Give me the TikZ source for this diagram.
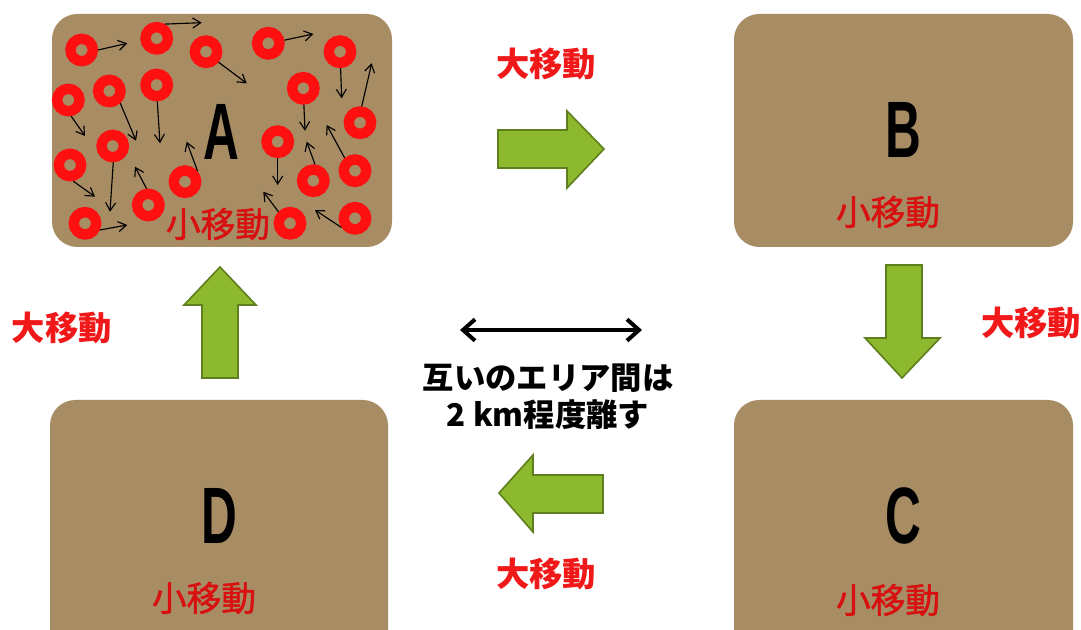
\documentclass[tikz,border=0pt]{standalone}
\usepackage{fontspec}
\newfontfamily\jp{Noto Sans CJK JP}
\newfontfamily\jpsmall[FakeBold=1.5]{Noto Sans CJK JP}
\newfontfamily\letterfont[FakeStretch=0.62]{Liberation Sans}
\usetikzlibrary{arrows.meta}
\definecolor{areafill}{HTML}{A78C64}
\definecolor{ringred}{HTML}{FF1010}
\definecolor{labred}{HTML}{F01818}
\definecolor{smallred}{HTML}{D81010}
\definecolor{gfill}{HTML}{8DB92E}
\definecolor{gdraw}{HTML}{5F7F1F}
\tikzset{
  area/.style={fill=areafill, rounded corners=19pt, inner sep=0pt},
  letter/.style={font=\letterfont\bfseries\fontsize{60}{60}\selectfont, text=black, inner sep=0pt},
  small/.style={font=\jpsmall\fontsize{26}{26}\selectfont, text=smallred, inner sep=0pt},
  big/.style={font=\jp\bfseries\fontsize{25}{25}\selectfont, text=labred, inner sep=0pt},
  note/.style={font=\jp\bfseries\fontsize{23.5}{28}\selectfont, text=black, align=center, inner sep=0pt},
  garrow/.style={fill=gfill, draw=gdraw, line width=1.2pt, line join=miter},
  ring/.style={circle, draw=ringred, line width=7.8pt, minimum size=16.8pt, inner sep=0pt},
  move/.style={draw=black, line width=0.85pt, -{Straight Barb[length=6pt,width=7.5pt]}},
  dist/.style={draw=black, line width=3pt, {Straight Barb[length=9pt,width=16pt]}-{Straight Barb[length=9pt,width=16pt]}}
}
\begin{document}
\begin{tikzpicture}[x=0.75pt,y=-0.75pt]
\useasboundingbox (0,0) rectangle (1081,630);
\clip (0,0) rectangle (1081,630);
\fill[white] (0,0) rectangle (1081,630);

% areas
\node[area, minimum width=340*0.75pt, minimum height=233*0.75pt] (A) at (222,130.5) {};
\node[area, minimum width=339*0.75pt, minimum height=233*0.75pt] (B) at (903.5,130.5) {};
\node[area, minimum width=339*0.75pt, minimum height=260*0.75pt] (C) at (903.5,530) {};
\node[area, minimum width=338*0.75pt, minimum height=260*0.75pt] (D) at (219,530) {};

% rings in A
\node[ring] (r1) at (81.7,50) {};
\node[ring] (r2) at (156.7,38.3) {};
\node[ring] (r3) at (206,51.7) {};
\node[ring] (r4) at (268.3,43.3) {};
\node[ring] (r5) at (340,51.7) {};
\node[ring] (r6) at (68.3,100) {};
\node[ring] (r7) at (109.3,91) {};
\node[ring] (r8) at (156.7,85) {};
\node[ring] (r9) at (303.3,88.3) {};
\node[ring] (r10) at (360,122.7) {};
\node[ring] (r11) at (112.7,146) {};
\node[ring] (r12) at (70,165) {};
\node[ring] (r13) at (277.7,141.7) {};
\node[ring] (r14) at (185,181.7) {};
\node[ring] (r15) at (355,170.7) {};
\node[ring] (r16) at (313.3,180.7) {};
\node[ring] (r17) at (148.3,205) {};
\node[ring] (r18) at (85,223.3) {};
\node[ring] (r19) at (290,223.3) {};
\node[ring] (r20) at (355,218.3) {};

% arrow targets
\coordinate (t1) at (127.3,43.3);
\coordinate (t2) at (201.7,22.7);
\coordinate (t3) at (246.7,83.3);
\coordinate (t4) at (313.3,34);
\coordinate (t5) at (341.7,98.3);
\coordinate (t6) at (371.7,63.3);
\coordinate (t7) at (85,136);
\coordinate (t8) at (136,140.7);
\coordinate (t9) at (160,143.3);
\coordinate (t10) at (305,130.7);
\coordinate (t11) at (186.7,141.7);
\coordinate (t12) at (277.7,185);
\coordinate (t13) at (306.7,141.7);
\coordinate (t14) at (326.7,125);
\coordinate (t15) at (95,196.7);
\coordinate (t16) at (110,211.7);
\coordinate (t17) at (135,166.7);
\coordinate (t18) at (127.3,225);
\coordinate (t19) at (263.3,191.7);
\coordinate (t20) at (315,210);

\draw[move] (r1.0) -- (t1);
\draw[move] (r2.60) -- (t2);
\draw[move] (r3.-40) -- (t3);
\draw[move] (r4.11) -- (t4);
\draw[move] (r5.-88) -- (t5);
\draw[move] (r10.84) -- (t6);
\draw[move] (r6.-80) -- (t7);
\draw[move] (r7.-48) -- (t8);
\draw[move] (r8.-88) -- (t9);
\draw[move] (r9.-88) -- (t10);
\draw[move] (r14.40) -- (t11);
\draw[move] (r13.-90) -- (t12);
\draw[move] (r16.84) -- (t13);
\draw[move] (r15.129) -- (t14);
\draw[move] (r12.-79) -- (t15);
\draw[move] (r11.-88) -- (t16);
\draw[move] (r17.96) -- (t17);
\draw[move] (r18.-24) -- (t18);
\draw[move] (r19.135) -- (t19);
\draw[move] (r20.214) -- (t20);

% letters
\node[letter] (la) at (221,132) {A};
\node[letter] (lb) at (903,130) {B};
\node[letter] (lc) at (903,516) {C};
\node[letter] (ld) at (219,516) {D};

% small moves
\node[small] (sa) at (218,224) {小移動};
\node[small] (sb) at (888,212) {小移動};
\node[small] (sc) at (888,600) {小移動};
\node[small] (sd) at (204,598) {小移動};

% big moves
\node[big] (bt) at (546,64) {大移動};
\node[big] (br) at (1031,323) {大移動};
\node[big] (bl) at (62,328) {大移動};
\node[big] (bb) at (546,574) {大移動};

% green arrows
\draw[garrow] (498,130) -- (567,130) -- (567,111) -- (604,149) -- (567,188) -- (567,168) -- (498,168) -- cycle;
\draw[garrow] (886,265) -- (922,265) -- (922,338) -- (940,338) -- (902,378) -- (865,338) -- (886,338) -- cycle;
\draw[garrow] (603,475) -- (533,475) -- (533,455) -- (499,493) -- (533,532) -- (533,513) -- (603,513) -- cycle;
\draw[garrow] (202,378) -- (238,378) -- (238,305) -- (256,305) -- (220,267) -- (184,305) -- (202,305) -- cycle;

% distance
\coordinate (dl) at (460,330);
\coordinate (dr) at (642,330);
\draw[dist] (dl) -- (dr);
\node[note] (nt) at (548,397) {互いのエリア間は\\2 km程度離す};
\end{tikzpicture}
\end{document}
